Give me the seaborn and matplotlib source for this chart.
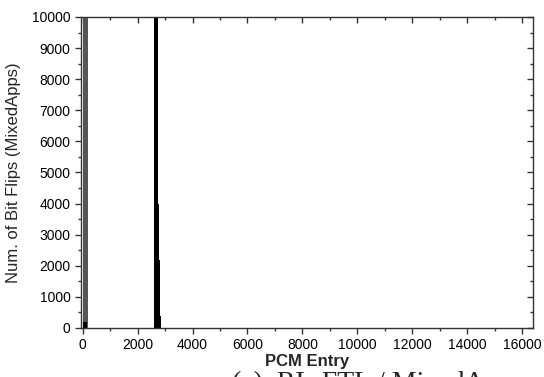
import matplotlib
matplotlib.use("Agg")
import matplotlib.pyplot as plt
from matplotlib.ticker import MultipleLocator
from matplotlib.lines import TICKDOWN, TICKLEFT
import seaborn as sns
import pandas as pd

# Bit flips per PCM entry (25-entry bins, start of each bin)
hot_entries = [0, 25, 50, 75, 100, 125, 150, 175]
hot_flips = [12000, 12000, 12000, 12000, 12000, 12000, 12000, 12000]

wear_entries = [0, 25, 50, 75, 100, 125,
                2600, 2625, 2650, 2675, 2700, 2725, 2750, 2775, 2800, 2825]
wear_flips = [200, 200, 200, 200, 200, 200,
              12000, 12000, 12000, 12000, 12000, 9000, 4000, 2200, 1100, 400]

x_ticks = list(range(0, 16001, 2000))
y_ticks = list(range(0, 10001, 1000))

sns.set_style("ticks")
plt.rcParams["font.family"] = ["Liberation Sans", "DejaVu Sans"]

fig = plt.figure(figsize=(5.44, 3.77), dpi=100)
ax = fig.add_axes([0.149, 0.130, 0.831, 0.825])

hot = pd.DataFrame({"entry": hot_entries, "flips": hot_flips})
wear = pd.DataFrame({"entry": wear_entries, "flips": wear_flips})

sns.histplot(data=hot, x="entry", weights="flips", binwidth=25, binrange=(0, 16400),
             color="#555555", alpha=1, linewidth=0, element="bars", ax=ax)
sns.histplot(data=wear, x="entry", weights="flips", binwidth=25, binrange=(0, 16400),
             color="black", alpha=1, linewidth=0, element="bars", ax=ax)

ax.set_xlim(-60, 16400)
ax.set_ylim(0, 10000)
ax.set_xticks(x_ticks)
ax.set_yticks(y_ticks)
ax.xaxis.set_minor_locator(MultipleLocator(1000))
ax.yaxis.set_minor_locator(MultipleLocator(500))

ax.tick_params(which="both", direction="out", top=True, right=True,
               labelsize=10, colors="#333333", labelcolor="black", width=1)
ax.tick_params(which="major", length=4)
ax.tick_params(which="minor", length=2.5)
# mirrored ticks on the top and right spines point inward
for t in ax.xaxis.get_ticklines(minor=False)[1::2] + ax.xaxis.get_ticklines(minor=True)[1::2]:
    t.set_marker(TICKDOWN)
for t in ax.yaxis.get_ticklines(minor=False)[1::2] + ax.yaxis.get_ticklines(minor=True)[1::2]:
    t.set_marker(TICKLEFT)

for s in ax.spines.values():
    s.set_color("#333333")
    s.set_linewidth(1)

ax.set_xlabel("PCM Entry", fontsize=12, fontweight="bold", labelpad=1)
ax.set_ylabel("Num. of Bit Flips (MixedApps)", fontsize=12, labelpad=8)

fig.text(0.426, -0.034, "(a)  RL-FTL / MixedApps", fontsize=20,
         family=["Liberation Serif", "DejaVu Serif"], ha="left", va="baseline")

fig.savefig("out.png", dpi=100)
